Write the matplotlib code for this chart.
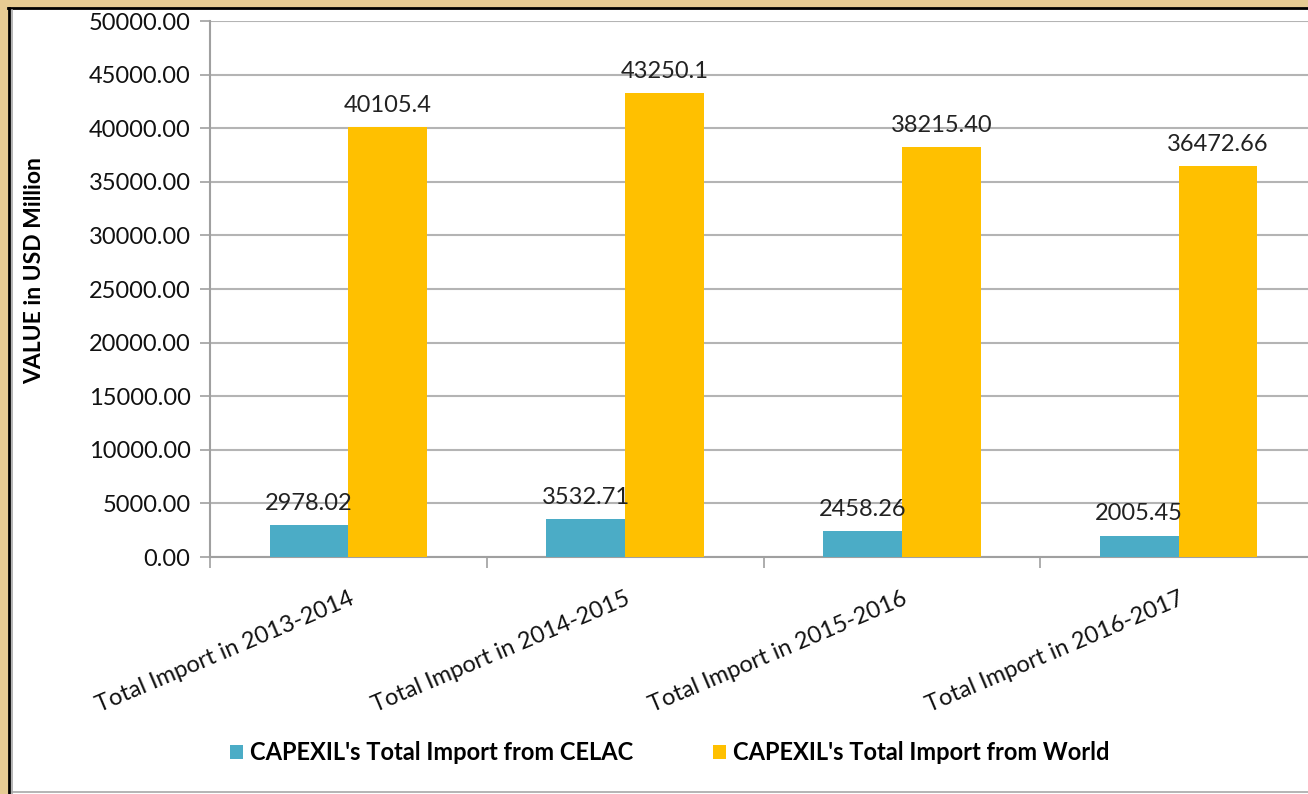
import matplotlib.pyplot as plt
import numpy as np
from matplotlib.patches import Rectangle
from matplotlib.lines import Line2D

# data
categories = ["Total Import in 2013-2014", "Total Import in 2014-2015",
              "Total Import in 2015-2016", "Total Import in 2016-2017"]
celac = [2978.02, 3532.71, 2458.26, 2005.45]
world = [40105.4, 43250.1, 38215.40, 36472.66]
celac_labels = ["2978.02", "3532.71", "2458.26", "2005.45"]
world_labels = ["40105.4", "43250.1", "38215.40", "36472.66"]
series_names = ["CAPEXIL's Total Import from CELAC", "CAPEXIL's Total Import from World"]

plt.rcParams['font.family'] = ['Lato', 'DejaVu Sans']

W, H = 1308, 794
fig = plt.figure(figsize=(W / 100, H / 100), dpi=100, facecolor='#E6CB93')

# white panel with dark frame (screenshot look)
fig.patches.append(Rectangle((9 / W, -0.01), 1.0, 1 - 8 / H + 0.01, transform=fig.transFigure,
                             facecolor='white', edgecolor='none', zorder=-5))
fig.lines.append(Line2D([8.5 / W, 8.5 / W], [0, 1 - 8 / H], transform=fig.transFigure,
                        color='black', lw=2, zorder=-4))
fig.lines.append(Line2D([8 / W, 1], [1 - 8 / H, 1 - 8 / H], transform=fig.transFigure,
                        color='black', lw=2, zorder=-4))
fig.lines.append(Line2D([11.5 / W, 11.5 / W], [0, 1 - 10 / H], transform=fig.transFigure,
                        color='#A8A8A8', lw=1.2, zorder=-4))
fig.lines.append(Line2D([11.5 / W, 1], [1 - 792 / H, 1 - 792 / H], transform=fig.transFigure,
                        color='#A8A8A8', lw=1.2, zorder=-4))

ax = fig.add_axes([210 / W, 1 - 557 / H, 1107 / W, 536 / H])
ax.set_facecolor('none')
ax.set_zorder(2)

x = np.arange(len(categories))
bw = 0.285
b1 = ax.bar(x - bw / 2, celac, bw, color='#4BACC6', label=series_names[0], zorder=3)
b2 = ax.bar(x + bw / 2, world, bw, color='#FFC000', label=series_names[1], zorder=3)

for rect, lab in zip(b1, celac_labels):
    ax.annotate(lab, (rect.get_x() + rect.get_width() / 2, rect.get_height()),
                xytext=(0, 8), textcoords='offset points', ha='center', va='bottom',
                fontsize=17, color='#222222', zorder=5)
for rect, lab in zip(b2, world_labels):
    ax.annotate(lab, (rect.get_x() + rect.get_width() / 2, rect.get_height()),
                xytext=(0, 8), textcoords='offset points', ha='center', va='bottom',
                fontsize=17, color='#222222', zorder=5)

ax.set_xlim(-0.5, len(categories) - 0.5)
ax.set_ylim(0, 50000)
ax.set_yticks(np.arange(0, 50001, 5000))
ax.set_yticklabels([f"{v:.2f}" for v in np.arange(0, 50001, 5000)])
ax.yaxis.grid(True, color='#B4B4B4', lw=1.5, zorder=0)
ax.set_axisbelow(True)

ax.set_xticks(x)
ax.set_xticklabels(categories, rotation=23, ha='right', rotation_mode='anchor')
ax.set_xticks(np.arange(-0.5, len(categories)), minor=True)
ax.tick_params(axis='x', which='major', length=0, pad=22, labelsize=17, labelcolor='#111111')
ax.tick_params(axis='x', which='minor', length=8, width=1.2, color='#A0A0A0', direction='out')
ax.tick_params(axis='y', length=7, width=1.2, color='#A0A0A0', labelsize=17,
               labelcolor='#111111', pad=7)

for s in ['top', 'right']:
    ax.spines[s].set_visible(False)
for s in ['left', 'bottom']:
    ax.spines[s].set_color('#A0A0A0')
    ax.spines[s].set_linewidth(1.5)

ax.set_ylabel("VALUE in USD Million", fontsize=16.5, fontweight='bold')
ax.yaxis.set_label_coords(-0.149, 0.535)

fig.legend(handles=[b1, b2], labels=series_names, loc='center', bbox_to_anchor=(0.512, 0.052),
           ncol=2, frameon=False, prop={'weight': 'bold', 'size': 17},
           handlelength=0.55, handleheight=0.55, handletextpad=0.3, columnspacing=3.4)

fig.savefig("out.png", dpi=100, facecolor=fig.get_facecolor())
